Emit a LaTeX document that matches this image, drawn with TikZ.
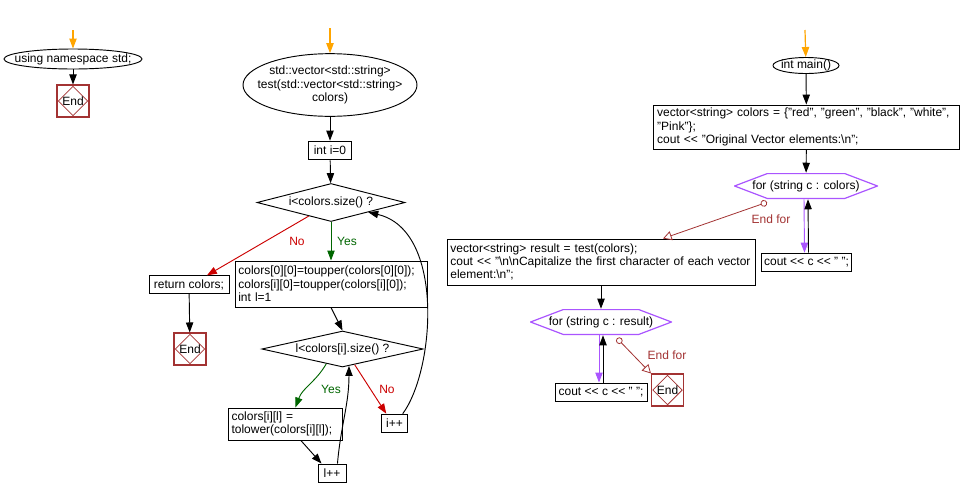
\documentclass[tikz,border=0pt]{standalone}
\usepackage{fontspec}
\setmainfont{Liberation Sans}
\usetikzlibrary{arrows.meta, positioning, calc, shapes.geometric}
\definecolor{startorange}{HTML}{FFA500}
\definecolor{yesgreen}{HTML}{006600}
\definecolor{nored}{HTML}{CC0000}
\definecolor{endred}{HTML}{A33333}
\definecolor{looppurple}{HTML}{AA55FF}

\begin{document}
\begin{tikzpicture}[x=0.75pt, y=-0.75pt, font=\fontsize{9}{10}\selectfont,
  flow/.style={draw, line width=0.7pt, -{Triangle[length=7.5pt, width=5.5pt]}},
  startarr/.style={flow, startorange, line width=0.9pt},
  endfor/.style={endred, line width=0.6pt,
    {Circle[open, length=5pt, width=5pt]}-{Triangle[open, length=6.5pt, width=7pt]}},
  box/.style={draw, line width=0.7pt, inner sep=2pt, minimum height=14pt},
  codebox/.style={draw, line width=0.7pt, inner xsep=2.5pt, inner ysep=1pt, align=left, text width=#1},
  fnell/.style={ellipse, draw, line width=0.7pt, inner xsep=-9pt, inner ysep=-1pt, align=center},
  cond/.style={diamond, draw, line width=0.7pt, aspect=4.5, inner sep=0pt},
  endbox/.style={draw=endred, line width=0.8pt, minimum size=24pt, inner sep=0pt,
    path picture={\draw[endred, line width=0.6pt] ([yshift=-1pt]path picture bounding box.north)
      -- ([xshift=-1pt]path picture bounding box.east) -- ([yshift=1pt]path picture bounding box.south)
      -- ([xshift=1pt]path picture bounding box.west) -- cycle;}},
  forloop/.style={minimum width=#1, minimum height=19.5pt, inner sep=0pt,
    path picture={\draw[looppurple, line width=0.9pt]
      ([xshift=0.4pt]path picture bounding box.west)
      -- ([xshift=25pt, yshift=-0.4pt]path picture bounding box.north west)
      -- ([xshift=-25pt, yshift=-0.4pt]path picture bounding box.north east)
      -- ([xshift=-0.4pt]path picture bounding box.east)
      -- ([xshift=-25pt, yshift=0.4pt]path picture bounding box.south east)
      -- ([xshift=25pt, yshift=0.4pt]path picture bounding box.south west)
      -- cycle;}}]
\path[use as bounding box, fill=white] (0,0) rectangle (960,497);

% using namespace std
\coordinate (s1) at (73,30);
\node[fnell, minimum width=103.5pt, minimum height=15pt] (usingns) at (73,59) {using namespace std;};
\node[endbox] (end1) at (73,101) {End};
\draw[startarr] (s1) -- (usingns);
\draw[flow] (usingns) -- (end1);

% test()
\coordinate (s2) at (330,28);
\node[fnell, minimum width=130.5pt, minimum height=47pt] (testfn) at (330,85)
  {std::vector<std::string>\\test(std::vector<std::string>\\colors)};
\node[box, minimum width=32pt] (initi) at (330,150.5) {int i=0};
\node[cond, minimum width=111pt, minimum height=28.5pt] (icond) at (331,202.5) {i<colors.size() ?};
\node[codebox=139pt, minimum height=34.5pt] (upbox) at (331,284)
  {colors[0][0]=toupper(colors[0][0]);\\colors[i][0]=toupper(colors[i][0]);\\int l=1};
\node[box, minimum width=60pt, minimum height=13pt] (ret) at (189,284.5) {return colors;};
\node[endbox] (end2) at (190,349) {End};
\node[cond, minimum width=121pt, minimum height=27pt] (lcond) at (342.5,349) {l<colors[i].size() ?};
\node[codebox=81pt, minimum height=24pt] (lowbox) at (285.5,424) {colors[i][l] =\\tolower(colors[i][l]);};
\node[box, minimum width=21pt, minimum height=13.5pt] (lpp) at (332,473) {l++};
\node[box, minimum width=20pt] (ipp) at (394.5,423.5) {i++};
\node[yesgreen] (yes1) at (347,241) {Yes};
\node[nored] (no1) at (297,241) {No};
\node[yesgreen] (yes2) at (331,389) {Yes};
\node[nored] (no2) at (387,389) {No};

\draw[startarr] (s2) -- (testfn);
\draw[flow] (testfn) -- (initi);
\draw[flow] (initi) -- (icond);
\draw[flow, yesgreen] (icond.south) -- (upbox.north -| icond.south);
\draw[flow, nored] ($(icond.south)!0.3!(icond.west)$) -- (ret.27);
\draw[flow] (ret) -- (end2);
\draw[flow] (upbox.south) -- (lcond.north);
\draw[flow, yesgreen] ($(lcond.south)!0.2!(lcond.west)$) to[out=-120, in=70] (lowbox.59);
\draw[flow, nored] ($(lcond.south)!0.15!(lcond.east)$) -- (ipp.130);
\draw[flow] (lowbox.-47) -- (lpp.138);
\draw[flow] (lpp.60) to[out=85, in=-90] ($(lcond.south)!0.08!(lcond.east)$);
\draw[flow] (ipp.50) .. controls (435,370) and (445,230) .. ($(icond.south)!0.5!(icond.east)$);

% main()
\coordinate (s3) at (805,30);
\node[fnell, minimum width=49.5pt, minimum height=12pt] (mainfn) at (806,65.5) {int main()};
\node[codebox=224pt, minimum height=33pt] (initv) at (806.5,127)
  {vector<string> colors = \{"red", "green", "black", "white",\\"Pink"\};\\cout <{}< "Original Vector elements:\textbackslash n";};
\node[forloop=108pt] (forc) at (806,186) {for (string c : colors)};
\node[box, minimum width=67pt] (coutc) at (806.5,262.5) {cout <{}< c <{}< " ";};
\node[codebox=226pt, minimum height=34.5pt] (resbox) at (601,262)
  {vector<string> result = test(colors);\\cout <{}< "\textbackslash n\textbackslash nCapitalize the first character of each vector\\element:\textbackslash n";};
\node[forloop=106.5pt] (forr) at (601,322) {for (string c : result)};
\node[box, minimum width=69pt, minimum height=13.5pt] (coutr) at (601,392) {cout <{}< c <{}< " ";};
\node[endbox] (end3) at (667.5,390) {End};
\node[endred] (ef1) at (771,219) {End for};
\node[endred] (ef2) at (667,355) {End for};

\draw[startarr] (s3) -- (mainfn);
\draw[flow] (mainfn) -- (initv);
\draw[flow] (initv) -- (forc);
\draw[flow, looppurple] ($(forc.south)+(-2,0)$) -- ($(coutc.north)+(-2,0)$);
\draw[flow] ($(coutc.north)+(2,0)$) -- ($(forc.south)+(2,0)$);
\draw[endfor] ($(forc.south)+(-39,3)$) -- ($(resbox.north)+(62,0)$);
\draw[flow] (resbox) -- (forr);
\draw[flow, looppurple] ($(forr.south)+(-2,0)$) -- ($(coutr.north)+(-2,0)$);
\draw[flow] ($(coutr.north)+(2,0)$) -- ($(forr.south)+(2,0)$);
\draw[endfor] ($(forr.south)+(16,3)$) -- (end3.north west);
\end{tikzpicture}
\end{document}
